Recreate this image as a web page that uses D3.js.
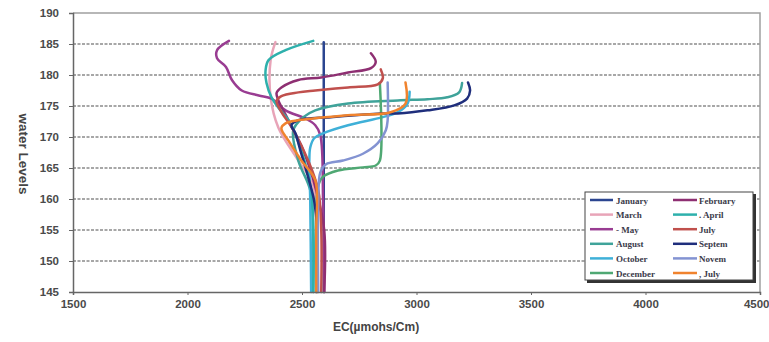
<!DOCTYPE html>
<html>
<head>
<meta charset="utf-8">
<script src="https://cdnjs.cloudflare.com/ajax/libs/d3/7.8.5/d3.min.js"></script>
<style>
body { margin: 0; background: #fff; }
svg { display: block; }
.tick text { font-family: Arial, "Liberation Sans", sans-serif; font-weight: bold; font-size: 11.5px; fill: #4a4a4a; }
.legendLabel { font-family: "Liberation Serif", "DejaVu Serif", serif; font-weight: bold; font-size: 9px; fill: #3a3a4a; }
</style>
</head>
<body>
<svg id="chart" width="769" height="342"></svg>
<script>
// tick values
var xTicks = [1500, 2000, 2500, 3000, 3500, 4000, 4500];
var yTicks = [145, 150, 155, 160, 165, 170, 175, 180, 185, 190];

// each series: [EC, water level]
var january  = [[2595,145],[2595,165],[2595,185.3]];
var february = [[2801,183.5],[2822,182.1],[2801,181.1],[2701,180.4],[2584,179.6],[2484,179.2],[2410,178.0],[2389,177.1],[2397,175.9],[2441,172.7],[2506,167.8],[2562,161.4],[2597,155],[2597,145]];
var march    = [[2384,185.3],[2363,182.4],[2363,176.4],[2397,171.5],[2484,166.2],[2549,162.2],[2562,155],[2562,145]];
var april    = [[2549,185.5],[2428,184.0],[2354,182.4],[2341,180.8],[2345,178.7],[2367,176.4],[2406,174.3],[2441,172.7],[2497,167.8],[2540,161.4],[2549,155],[2549,145]];
var may      = [[2181,185.5],[2129,184.0],[2129,182.7],[2168,181.3],[2194,179.2],[2237,177.5],[2311,176.7],[2367,176.2],[2428,174.3],[2514,173.0],[2558,171.9],[2580,170.3],[2592,159.7],[2597,145]];
var july     = [[2844,180.9],[2853,179.5],[2831,178.5],[2701,178.0],[2558,177.5],[2484,177.2],[2410,176.6],[2389,175.8],[2406,174.3],[2462,171.1],[2527,166.2],[2571,161.4],[2584,155],[2584,145]];
var august   = [[3199,178.7],[3186,177.2],[3134,176.4],[3048,176.1],[2918,175.9],[2701,175.4],[2558,174.3],[2506,173.2],[2462,171.1],[2484,166.2],[2536,161.4],[2549,155],[2549,145]];
var septem   = [[3225,178.8],[3234,177.5],[3221,176.2],[3165,175.1],[3048,174.3],[2918,173.8],[2844,173.8],[2627,173.2],[2484,172.7],[2454,171.9],[2471,170.6],[2497,167.3],[2527,163.5],[2553,159.7],[2566,155],[2566,145]];
var october  = [[2970,177.3],[2961,175.4],[2918,174.0],[2853,173.2],[2701,171.9],[2592,170.6],[2553,169.8],[2536,168.3],[2532,166.2],[2536,159.7],[2540,145]];
var novem    = [[2874,178.8],[2874,172.7],[2866,171.1],[2831,169.0],[2766,167.3],[2679,166.2],[2605,165.6],[2580,164.3],[2571,159.7],[2571,145]];
var december = [[2840,178.7],[2840,166.2],[2822,165.4],[2766,165.1],[2657,164.6],[2592,163.6],[2571,162.2],[2562,155],[2562,145]];
var july2    = [[2952,178.8],[2952,175.4],[2887,174.0],[2700,173.5],[2484,172.7],[2428,172.2],[2410,171.4],[2441,169.4],[2497,166.2],[2558,163.0],[2562,155],[2562,145]];

var leftNames  = ["January", "March", "- May", "August", "October", "December"];
var rightNames = ["February", ". April", "July", "Septem", "Novem", ", July"];
var leftColors  = ["#2b4590", "#e8a4b8", "#993c92", "#3fa39a", "#3fb0d8", "#4fa873"];
var rightColors = ["#8e2f72", "#2eb0ac", "#c0504d", "#1f2e7c", "#8393d2", "#f0832e"];

var series = [
	{pts: january,  color: leftColors[0]},
	{pts: march,    color: leftColors[1]},
	{pts: may,      color: leftColors[2]},
	{pts: august,   color: leftColors[3]},
	{pts: october,  color: leftColors[4]},
	{pts: december, color: leftColors[5]},
	{pts: february, color: rightColors[0]},
	{pts: april,    color: rightColors[1]},
	{pts: july,     color: rightColors[2]},
	{pts: septem,   color: rightColors[3]},
	{pts: novem,    color: rightColors[4]},
	{pts: july2,    color: rightColors[5]}
];

var svg = d3.select("#chart");
var plotLeft = 73, plotRight = 760, plotTop = 13, plotBottom = 292;

var x = d3.scaleLinear().domain([1500, 4500]).range([plotLeft, plotRight]);
var y = d3.scaleLinear().domain([145, 190]).range([plotBottom, plotTop]);

// dashed grid
svg.append("g")
	.selectAll("line")
	.data(yTicks.filter(function(d){ return d > 145 && d < 190; }))
	.enter()
	.append("line")
	.attr("x1", plotLeft).attr("x2", plotRight)
	.attr("y1", function(d){ return y(d); })
	.attr("y2", function(d){ return y(d); })
	.style("stroke", "#8a8a8a")
	.style("stroke-width", 1.3)
	.style("stroke-dasharray", "3,1.5");

// plot frame (top + right)
svg.append("path")
	.attr("d", "M" + plotLeft + "," + plotTop + "H" + plotRight + "V" + plotBottom)
	.style("fill", "none")
	.style("stroke", "#a0a0a0")
	.style("stroke-width", 1.5);

// lines
var line = d3.line()
	.x(function(d){ return x(d[0]); })
	.y(function(d){ return y(d[1]); })
	.curve(d3.curveCatmullRom.alpha(0.5));

svg.append("g")
	.selectAll("path")
	.data(series)
	.enter()
	.append("path")
	.attr("d", function(d){ return line(d.pts); })
	.style("fill", "none")
	.style("stroke", function(d){ return d.color; })
	.style("stroke-width", 2.5)
	.style("stroke-linejoin", "round")
	.style("stroke-linecap", "round");

// axes
var xAxis = svg.append("g")
	.attr("transform", "translate(0," + plotBottom + ")")
	.call(d3.axisBottom(x).tickValues(xTicks).tickFormat(d3.format("d")).tickSize(3).tickPadding(5));
var yAxis = svg.append("g")
	.attr("transform", "translate(" + plotLeft + ",0)")
	.call(d3.axisLeft(y).tickValues(yTicks).tickFormat(d3.format("d")).tickSize(4).tickPadding(10));
[xAxis, yAxis].forEach(function(a){
	a.select(".domain").style("stroke", "#666").style("stroke-width", 1.5);
	a.selectAll(".tick line").style("stroke", "#666");
});
// last x label sits against the right edge
xAxis.selectAll(".tick text")
	.filter(function(d){ return d === 4500; })
	.attr("text-anchor", "end")
	.attr("dx", 9);

svg.append("text")
	.text("EC(\u00b5mohs/Cm)")
	.attr("x", 376).attr("y", 331)
	.attr("text-anchor", "middle")
	.style("font-family", "Arial, 'Liberation Sans', sans-serif")
	.style("font-weight", "bold")
	.style("font-size", "12px")
	.style("fill", "#444");

svg.append("text")
	.text("water Levels")
	.attr("transform", "translate(19,154) rotate(90)")
	.attr("text-anchor", "middle")
	.style("font-family", "Arial, 'Liberation Sans', sans-serif")
	.style("font-weight", "bold")
	.style("font-size", "13.5px")
	.style("fill", "#444");

// legend
var legend = svg.append("g").attr("class", "legend");
legend.append("rect")
	.attr("x", 587).attr("y", 194)
	.attr("width", 169).attr("height", 89)
	.style("fill", "#333");
legend.append("rect")
	.attr("x", 585).attr("y", 192)
	.attr("width", 168).attr("height", 88)
	.style("fill", "#fff")
	.style("stroke", "#444")
	.style("stroke-width", 1);

function legendColumn(names, colors, x0, x1, tx){
	var g = legend.append("g");
	var rows = g.selectAll("g").data(names).enter().append("g")
		.attr("transform", function(d, i){ return "translate(0," + (200 + i * 14.6) + ")"; });
	rows.append("line")
		.attr("x1", x0).attr("x2", x1)
		.style("stroke", function(d, i){ return colors[i]; })
		.style("stroke-width", 2.5);
	rows.append("text")
		.attr("class", "legendLabel")
		.attr("x", tx).attr("y", 3.5)
		.text(function(d){ return d; });
}
legendColumn(leftNames, leftColors, 590, 613, 616);
legendColumn(rightNames, rightColors, 673, 697, 699);
</script>
</body>
</html>
